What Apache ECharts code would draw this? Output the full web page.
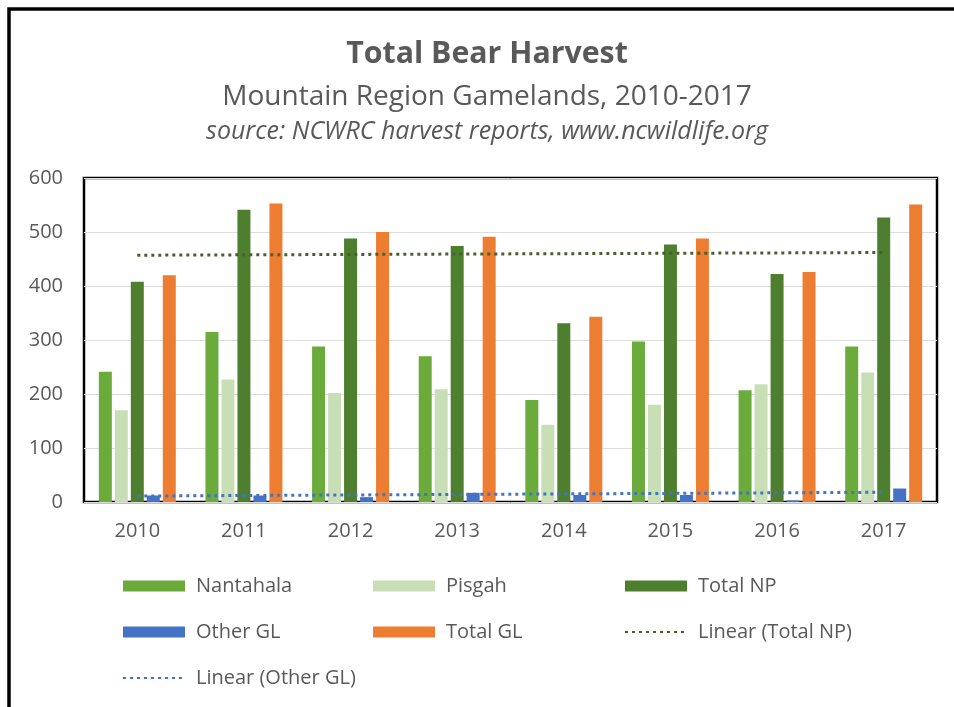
<!DOCTYPE html>
<html>
<head>
<meta charset="utf-8">
<script src="https://cdn.jsdelivr.net/npm/echarts@6/dist/echarts.min.js"></script>
<style>
html,body{margin:0;padding:0;background:#fff;}
#chart{width:954px;height:707px;}
</style>
</head>
<body>
<div id="chart"></div>
<script>
const years = ['2010','2011','2012','2013','2014','2015','2016','2017'];
const nantahala = [241, 315, 288, 270, 189, 297, 207, 288];
const pisgah    = [170, 227, 202, 209, 143, 180, 218, 240];
const totalNP   = [408, 541, 488, 474, 331, 477, 422, 527];
const otherGL   = [12, 12, 9, 17, 13, 13, 3, 25];
const totalGL   = [420, 553, 500, 491, 343, 488, 426, 551];
const trendNP   = [457, null, null, null, null, null, null, 462];
const trendOther= [11, null, null, null, null, null, null, 18];
const yTicks = {min: 0, max: 600, interval: 100};

const FONT = 'Open Sans';
const GRAY = '#595959';

// size a heading font so that its text spans the reference width
const measureCtx = document.createElement('canvas').getContext('2d');
function fitFont(text, prefix, family, targetWidth) {
  measureCtx.font = prefix + ' 100px "' + family + '"';
  const w = measureCtx.measureText(text).width;
  const size = Math.round(100 * targetWidth / w * 10) / 10;
  return prefix + ' ' + size + 'px "' + family + '"';
}

const chart = echarts.init(document.getElementById('chart'), null, {renderer: 'canvas'});

const barBase = {type: 'bar', barWidth: 13, barGap: '23%', z: 2};
const legendText = {fontFamily: FONT, fontSize: 20, color: GRAY, padding: [0,0,0,6], lineHeight: 20};
function legendCol(left, names) {
  return {left: left, top: 576, padding: 0, orient: 'vertical', itemWidth: 62, itemHeight: 11, itemGap: 26,
    textStyle: legendText, selectedMode: false,
    data: names.map(function (n) {
      return n.indexOf('Linear') === 0 ? {name: n, itemStyle: {opacity: 0}} : {name: n, icon: 'rect'};
    })};
}

const titleText = 'Total Bear Harvest';
const subText = 'Mountain Region Gamelands, 2010-2017';
const srcText = 'source: NCWRC harvest reports, www.ncwildlife.org';

chart.setOption({
  animation: false,
  backgroundColor: '#fff',
  grid: {left: 84, top: 178, right: 17, bottom: 205, show: true, borderColor: '#000', borderWidth: 2.5, backgroundColor: '#fff'},
  xAxis: {type: 'category', data: years, axisLine: {show: false}, axisTick: {show: false},
    axisLabel: {fontFamily: FONT, fontSize: 20, color: GRAY, margin: 19}},
  yAxis: {type: 'value', min: yTicks.min, max: yTicks.max, interval: yTicks.interval,
    axisLine: {show: false}, axisTick: {show: false},
    axisLabel: {fontFamily: FONT, fontSize: 20, color: GRAY, margin: 21},
    splitLine: {lineStyle: {color: '#dcdcdc', width: 1}}},
  legend: [
    legendCol(122, ['Nantahala', 'Other GL', 'Linear (Other GL)']),
    legendCol(373, ['Pisgah', 'Total GL']),
    legendCol(624, ['Total NP', 'Linear (Total NP)'])
  ],
  series: [
    Object.assign({}, barBase, {name: 'Nantahala', data: nantahala, itemStyle: {color: '#6aab3c'}}),
    Object.assign({}, barBase, {name: 'Pisgah', data: pisgah, itemStyle: {color: '#c8dfb6'}}),
    Object.assign({}, barBase, {name: 'Total NP', data: totalNP, itemStyle: {color: '#4e7f2e'}}),
    Object.assign({}, barBase, {name: 'Other GL', data: otherGL, itemStyle: {color: '#4472c4'}}),
    Object.assign({}, barBase, {name: 'Total GL', data: totalGL, itemStyle: {color: '#ed7d31'}}),
    {type: 'line', name: 'Linear (Total NP)', data: trendNP, connectNulls: true, symbol: 'none', z: 5,
      itemStyle: {color: '#4b5e2e'}, lineStyle: {color: '#4b5e2e', width: 3, type: [3, 4]}},
    {type: 'line', name: 'Linear (Other GL)', data: trendOther, connectNulls: true, symbol: 'none', z: 5,
      itemStyle: {color: '#4472c4'}, lineStyle: {color: '#4472c4', width: 3, type: [3, 4]}}
  ],
  graphic: [
    {type: 'rect', shape: {x: 9, y: 9, width: 1200, height: 1200}, style: {fill: null, stroke: '#000', lineWidth: 3.5}, silent: true, z: 100},
    {type: 'text', x: 487, y: 54, style: {text: titleText, font: fitFont(titleText, 'bold', FONT, 282), fill: GRAY, textAlign: 'center', textVerticalAlign: 'middle'}},
    {type: 'text', x: 487, y: 97, style: {text: subText, font: fitFont(subText, 'normal', FONT, 530), fill: GRAY, textAlign: 'center', textVerticalAlign: 'middle'}},
    {type: 'text', x: 487, y: 132, style: {text: srcText, font: fitFont(srcText, 'italic', FONT, 561), fill: GRAY, textAlign: 'center', textVerticalAlign: 'middle'}}
  ]
});
</script>
</body>
</html>
